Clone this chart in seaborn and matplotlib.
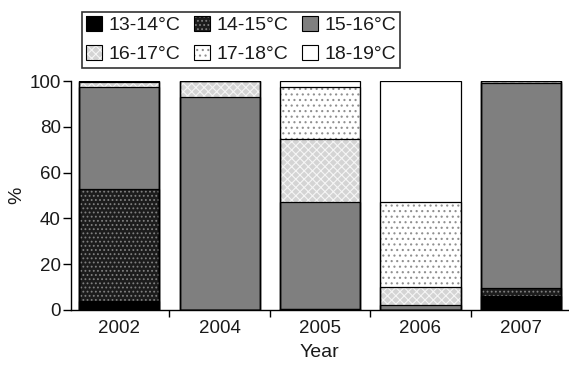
import numpy as np
import pandas as pd
import matplotlib
matplotlib.use("Agg")
import matplotlib.pyplot as plt
from matplotlib.patches import Patch
from matplotlib.legend_handler import HandlerTuple
from matplotlib.ticker import FixedLocator
import seaborn as sns

# Share of readings per water-temperature band, by year (%)
years = ["2002", "2004", "2005", "2006", "2007"]
t13_14 = [4.0, 0.0, 0.5, 0.0, 6.0]
t14_15 = [49.0, 0.0, 0.0, 0.0, 3.5]
t15_16 = [44.5, 93.0, 46.5, 2.0, 89.5]
t16_17 = [2.0, 7.0, 27.5, 8.0, 1.0]
t17_18 = [0.5, 0.0, 23.0, 37.0, 0.0]
t18_19 = [0.0, 0.0, 2.5, 53.0, 0.0]

bands = ["13-14°C", "14-15°C", "15-16°C", "16-17°C", "17-18°C", "18-19°C"]
series = [t13_14, t14_15, t15_16, t16_17, t17_18, t18_19]

# fill colour, hatch pattern, hatch colour for each band
styles = [
    ("#000000", None, "#000000"),
    ("#1c1c1c", "....", "#808080"),
    ("#7f7f7f", None, "#7f7f7f"),
    ("#d4d4d4", "xxxx", "#f5f5f5"),
    ("#ffffff", "...", "#909090"),
    ("#ffffff", None, "#ffffff"),
]

sns.set_theme(style="ticks")
plt.rcParams["font.family"] = ["Liberation Sans", "DejaVu Sans"]
plt.rcParams["hatch.linewidth"] = 0.8

text_color = "#1a1a1a"

df = pd.DataFrame({b: s for b, s in zip(bands, series)}, index=years)
cum = df.cumsum(axis=1)

fig = plt.figure(figsize=(5.69, 3.65), dpi=100)
ax = fig.add_axes([70.5 / 569, 1 - 310 / 365, 497.5 / 569, 229 / 365])

# stacked fills: draw cumulative totals from the top band downward
for band, (fc, hatch, hc) in reversed(list(zip(bands, styles))):
    sns.barplot(x=years, y=cum[band].values, order=years, color=fc,
                saturation=1, width=0.8, hatch=hatch, edgecolor=hc,
                linewidth=0, ax=ax, errorbar=None)

# segment outlines
for band in bands:
    sns.barplot(x=years, y=cum[band].values, order=years, fill=False,
                color="black", width=0.8, linewidth=0.9, ax=ax,
                errorbar=None)

ax.set_xlim(-0.486, 4.47)
ax.set_ylim(0, 100)
ax.set_yticks([0, 20, 40, 60, 80, 100])
sns.despine(ax=ax)
for sp in ("left", "bottom"):
    ax.spines[sp].set_linewidth(1.0)
    ax.spines[sp].set_color("black")

ax.tick_params(axis="x", which="major", length=0, pad=7, labelsize=13.5,
               labelcolor=text_color)
ax.xaxis.set_minor_locator(FixedLocator([0.5, 1.5, 2.5, 3.5]))
ax.tick_params(axis="x", which="minor", length=5, width=1.0, color="black",
               direction="out")
ax.tick_params(axis="y", length=6, width=1.0, pad=1, labelsize=13.5,
               color="black", labelcolor=text_color)

ax.set_xlabel("Year", fontsize=14, color=text_color, labelpad=5)
ax.set_ylabel("%", fontsize=14, color=text_color, labelpad=3)

handles = []
for fc, hatch, hc in styles:
    fill = Patch(facecolor=fc, hatch=hatch, edgecolor=hc, linewidth=0)
    edge = Patch(facecolor="none", edgecolor="black", linewidth=0.8)
    handles.append((fill, edge))

# legend reads across rows: reorder for matplotlib's column-first filling
order = [0, 3, 1, 4, 2, 5]
leg = fig.legend([handles[i] for i in order], [bands[i] for i in order],
                 ncol=3, loc="upper left",
                 bbox_to_anchor=(82 / 569, 1 - 12 / 365),
                 handler_map={tuple: HandlerTuple(ndivide=1, pad=0)},
                 fontsize=14, frameon=True, fancybox=False,
                 handlelength=0.8, handleheight=0.8, handletextpad=0.35,
                 columnspacing=0.7, labelspacing=0.55, borderpad=0.22,
                 borderaxespad=0)
leg.get_frame().set_edgecolor("black")
leg.get_frame().set_linewidth(1.2)
for t in leg.get_texts():
    t.set_color(text_color)

fig.savefig("out.png", dpi=100)
